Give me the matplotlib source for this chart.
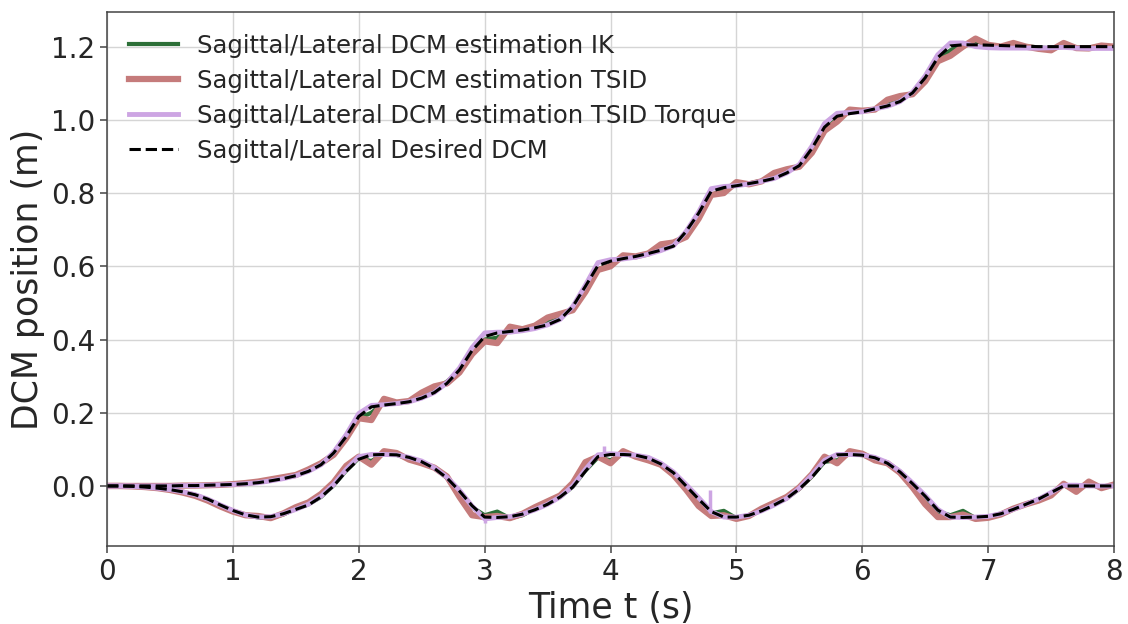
import matplotlib
matplotlib.use('Agg')

import matplotlib.pyplot as plt
import numpy as np

# sample times (s), one value every 0.1 s
t = np.round(np.arange(81) * 0.1, 1)

# sagittal DCM (m)
sag_desired = [0, 0, 0, 0, 0, 0, 0.001, 0.001, 0.002, 0.003,
               0.004, 0.006, 0.009, 0.014, 0.02, 0.028, 0.04, 0.058, 0.09, 0.135,
               0.19, 0.216, 0.221, 0.225, 0.23, 0.24, 0.255, 0.28, 0.317, 0.37,
               0.408, 0.418, 0.422, 0.426, 0.432, 0.44, 0.455, 0.49, 0.545, 0.602,
               0.614, 0.621, 0.627, 0.635, 0.644, 0.655, 0.695, 0.745, 0.805, 0.815,
               0.82, 0.826, 0.832, 0.84, 0.855, 0.875, 0.922, 0.98, 1.01, 1.017,
               1.022, 1.03, 1.038, 1.05, 1.074, 1.115, 1.17, 1.202, 1.205, 1.205,
               1.204, 1.203, 1.202, 1.201, 1.2, 1.2, 1.2, 1.2, 1.2, 1.2, 1.2]
sag_ik = [0, 0, 0, 0, 0, 0, 0.001, 0.001, 0.002, 0.003,
          0.004, 0.006, 0.01, 0.015, 0.022, 0.03, 0.042, 0.06, 0.088, 0.13,
          0.185, 0.2, 0.228, 0.228, 0.232, 0.245, 0.262, 0.285, 0.315, 0.365,
          0.4, 0.405, 0.43, 0.428, 0.434, 0.448, 0.462, 0.485, 0.535, 0.592,
          0.605, 0.625, 0.626, 0.636, 0.652, 0.662, 0.685, 0.735, 0.795, 0.808,
          0.828, 0.826, 0.834, 0.848, 0.862, 0.875, 0.912, 0.975, 1.002, 1.025,
          1.024, 1.03, 1.045, 1.058, 1.072, 1.108, 1.163, 1.19, 1.205, 1.215,
          1.205, 1.2, 1.205, 1.201, 1.198, 1.195, 1.203, 1.198, 1.198, 1.202, 1.2]
sag_tsid = [0, 0, 0, 0, 0, 0, 0.001, 0.001, 0.002, 0.003,
            0.005, 0.008, 0.012, 0.018, 0.024, 0.03, 0.045, 0.062, 0.085, 0.13,
            0.185, 0.18, 0.238, 0.228, 0.232, 0.255, 0.272, 0.28, 0.31, 0.36,
            0.395, 0.39, 0.435, 0.428, 0.438, 0.46, 0.47, 0.48, 0.53, 0.59,
            0.6, 0.63, 0.627, 0.635, 0.66, 0.665, 0.68, 0.73, 0.795, 0.8,
            0.83, 0.824, 0.832, 0.855, 0.865, 0.872, 0.91, 0.97, 0.995, 1.028,
            1.025, 1.028, 1.055, 1.065, 1.07, 1.105, 1.16, 1.175, 1.2, 1.222,
            1.205, 1.2, 1.21, 1.2, 1.194, 1.19, 1.21, 1.196, 1.195, 1.203, 1.2]
sag_torque = [0, 0, 0, 0, 0, 0, 0.001, 0.001, 0.002, 0.003,
              0.004, 0.006, 0.009, 0.014, 0.02, 0.028, 0.04, 0.058, 0.092, 0.14,
              0.198, 0.22, 0.222, 0.225, 0.23, 0.24, 0.255, 0.282, 0.322, 0.378,
              0.418, 0.42, 0.42, 0.424, 0.43, 0.44, 0.455, 0.49, 0.548, 0.61,
              0.618, 0.62, 0.625, 0.633, 0.643, 0.656, 0.695, 0.748, 0.812, 0.818,
              0.82, 0.825, 0.832, 0.84, 0.855, 0.878, 0.928, 0.99, 1.018, 1.02,
              1.022, 1.03, 1.037, 1.05, 1.076, 1.12, 1.178, 1.21, 1.21, 1.2,
              1.197, 1.196, 1.196, 1.196, 1.196, 1.197, 1.198, 1.196, 1.195, 1.195, 1.195]

# lateral DCM (m)
lat_desired = [0, 0, -0.001, -0.003, -0.006, -0.01, -0.016, -0.024, -0.036, -0.052,
               -0.067, -0.079, -0.085, -0.084, -0.076, -0.064, -0.052, -0.03, 0.0, 0.04,
               0.073, 0.085, 0.086, 0.085, 0.078, 0.066, 0.048, 0.022, -0.014, -0.054,
               -0.085, -0.086, -0.084, -0.077, -0.065, -0.05, -0.03, -0.003, 0.04, 0.08,
               0.086, 0.086, 0.084, 0.076, 0.06, 0.036, 0.0, -0.036, -0.07, -0.085,
               -0.085, -0.08, -0.068, -0.052, -0.034, -0.008, 0.024, 0.064, 0.085, 0.086,
               0.084, 0.077, 0.062, 0.038, 0.006, -0.028, -0.066, -0.085, -0.086, -0.085,
               -0.083, -0.076, -0.064, -0.05, -0.036, -0.018, 0.0, 0.0, 0.0, 0.0, 0.0]
lat_ik = [0, 0, -0.001, -0.003, -0.006, -0.01, -0.017, -0.026, -0.038, -0.054,
          -0.068, -0.08, -0.086, -0.088, -0.078, -0.062, -0.05, -0.03, 0.002, 0.042,
          0.076, 0.068, 0.088, 0.085, 0.074, 0.064, 0.05, 0.022, -0.016, -0.058,
          -0.08, -0.07, -0.088, -0.08, -0.062, -0.046, -0.03, -0.002, 0.042, 0.078,
          0.07, 0.088, 0.082, 0.074, 0.058, 0.034, -0.002, -0.04, -0.075, -0.068,
          -0.088, -0.082, -0.066, -0.05, -0.034, -0.008, 0.026, 0.066, 0.07, 0.088,
          0.084, 0.074, 0.062, 0.038, 0.004, -0.03, -0.07, -0.08, -0.068, -0.088,
          -0.086, -0.076, -0.062, -0.05, -0.036, -0.02, 0.002, -0.012, 0.006, -0.006, 0.002]
lat_tsid = [0, 0, -0.001, -0.003, -0.006, -0.011, -0.018, -0.027, -0.04, -0.056,
            -0.07, -0.08, -0.082, -0.088, -0.075, -0.058, -0.045, -0.022, 0.01, 0.055,
            0.08, 0.058, 0.095, 0.09, 0.072, 0.062, 0.05, 0.026, -0.03, -0.08,
            -0.085, -0.082, -0.088, -0.076, -0.058, -0.042, -0.026, 0.008, 0.065, 0.08,
            0.062, 0.095, 0.08, 0.07, 0.058, 0.03, -0.01, -0.055, -0.082, -0.08,
            -0.09, -0.082, -0.062, -0.046, -0.03, -0.004, 0.032, 0.08, 0.062, 0.095,
            0.088, 0.07, 0.062, 0.036, -0.004, -0.05, -0.085, -0.085, -0.078, -0.09,
            -0.087, -0.078, -0.062, -0.05, -0.04, -0.026, 0.006, -0.016, 0.012, -0.006, 0.004]
lat_torque = [0, 0, -0.001, -0.003, -0.006, -0.01, -0.016, -0.024, -0.036, -0.052,
              -0.067, -0.079, -0.085, -0.084, -0.076, -0.064, -0.05, -0.028, 0.004, 0.045,
              0.08, 0.086, 0.086, 0.085, 0.078, 0.068, 0.05, 0.024, -0.012, -0.055,
              -0.09, -0.086, -0.084, -0.077, -0.065, -0.05, -0.03, 0.0, 0.045, 0.085,
              0.088, 0.086, 0.084, 0.078, 0.062, 0.038, 0.004, -0.032, -0.07, -0.085,
              -0.085, -0.08, -0.068, -0.052, -0.034, -0.006, 0.03, 0.07, 0.086, 0.086,
              0.085, 0.078, 0.064, 0.04, 0.008, -0.026, -0.064, -0.085, -0.086, -0.085,
              -0.083, -0.076, -0.064, -0.05, -0.036, -0.018, 0.002, 0.002, 0.0, 0.0, 0.0]

# short spikes in the lateral TSID Torque estimate
spike_t = [3.0, 3.95, 4.79]
spike_lo = [-0.1, 0.082, -0.075]
spike_hi = [-0.082, 0.108, -0.01]

labels = [u'Sagittal/Lateral DCM estimation IK',
          u'Sagittal/Lateral DCM estimation TSID',
          u'Sagittal/Lateral DCM estimation TSID Torque',
          u'Sagittal/Lateral Desired DCM']

c_ik = '#2d7038'
c_tsid = '#c57b7b'
c_torque = '#cda5e3'
c_text = '#262626'

plt.rcParams['font.family'] = 'DejaVu Sans'

fig = plt.figure(figsize=(11.28, 6.24), dpi=100)
ax = fig.add_axes([0.0949, 0.125, 0.8927, 0.856])

ax.plot(t, sag_ik, color=c_ik, lw=3, label=labels[0])
ax.plot(t, lat_ik, color=c_ik, lw=3)
ax.plot(t, sag_tsid, color=c_tsid, lw=4.5, label=labels[1])
ax.plot(t, lat_tsid, color=c_tsid, lw=4.5)
ax.plot(t, sag_torque, color=c_torque, lw=3.5, label=labels[2])
ax.plot(t, lat_torque, color=c_torque, lw=3.5)
ax.vlines(spike_t, spike_lo, spike_hi, color=c_torque, lw=2.5)
ax.plot(t, sag_desired, 'k--', lw=2.2, label=labels[3])
ax.plot(t, lat_desired, 'k--', lw=2.2)

ax.set_xlim(0, 8)
ax.set_ylim(-0.164, 1.295)
ax.set_xticks(range(9))
ax.set_yticks([0.0, 0.2, 0.4, 0.6, 0.8, 1.0, 1.2])
ax.set_yticklabels(['%.1f' % v for v in [0.0, 0.2, 0.4, 0.6, 0.8, 1.0, 1.2]])

ax.grid(True, color='#d5d5d5', lw=1)
ax.set_axisbelow(True)
for s in ax.spines.values():
    s.set_color('#444444')
    s.set_linewidth(1.1)
ax.tick_params(labelsize=20, colors=c_text, length=5, width=1.1, color='#444444')

ax.set_xlabel(u'Time t (s)', fontsize=25, color=c_text)
ax.set_ylabel(u'DCM position (m)', fontsize=25, color=c_text)

ax.legend(loc='upper left', fontsize=17.5, frameon=False, labelspacing=0.45,
          labelcolor=c_text)

plt.savefig('out.png', dpi=100)
plt.close()
